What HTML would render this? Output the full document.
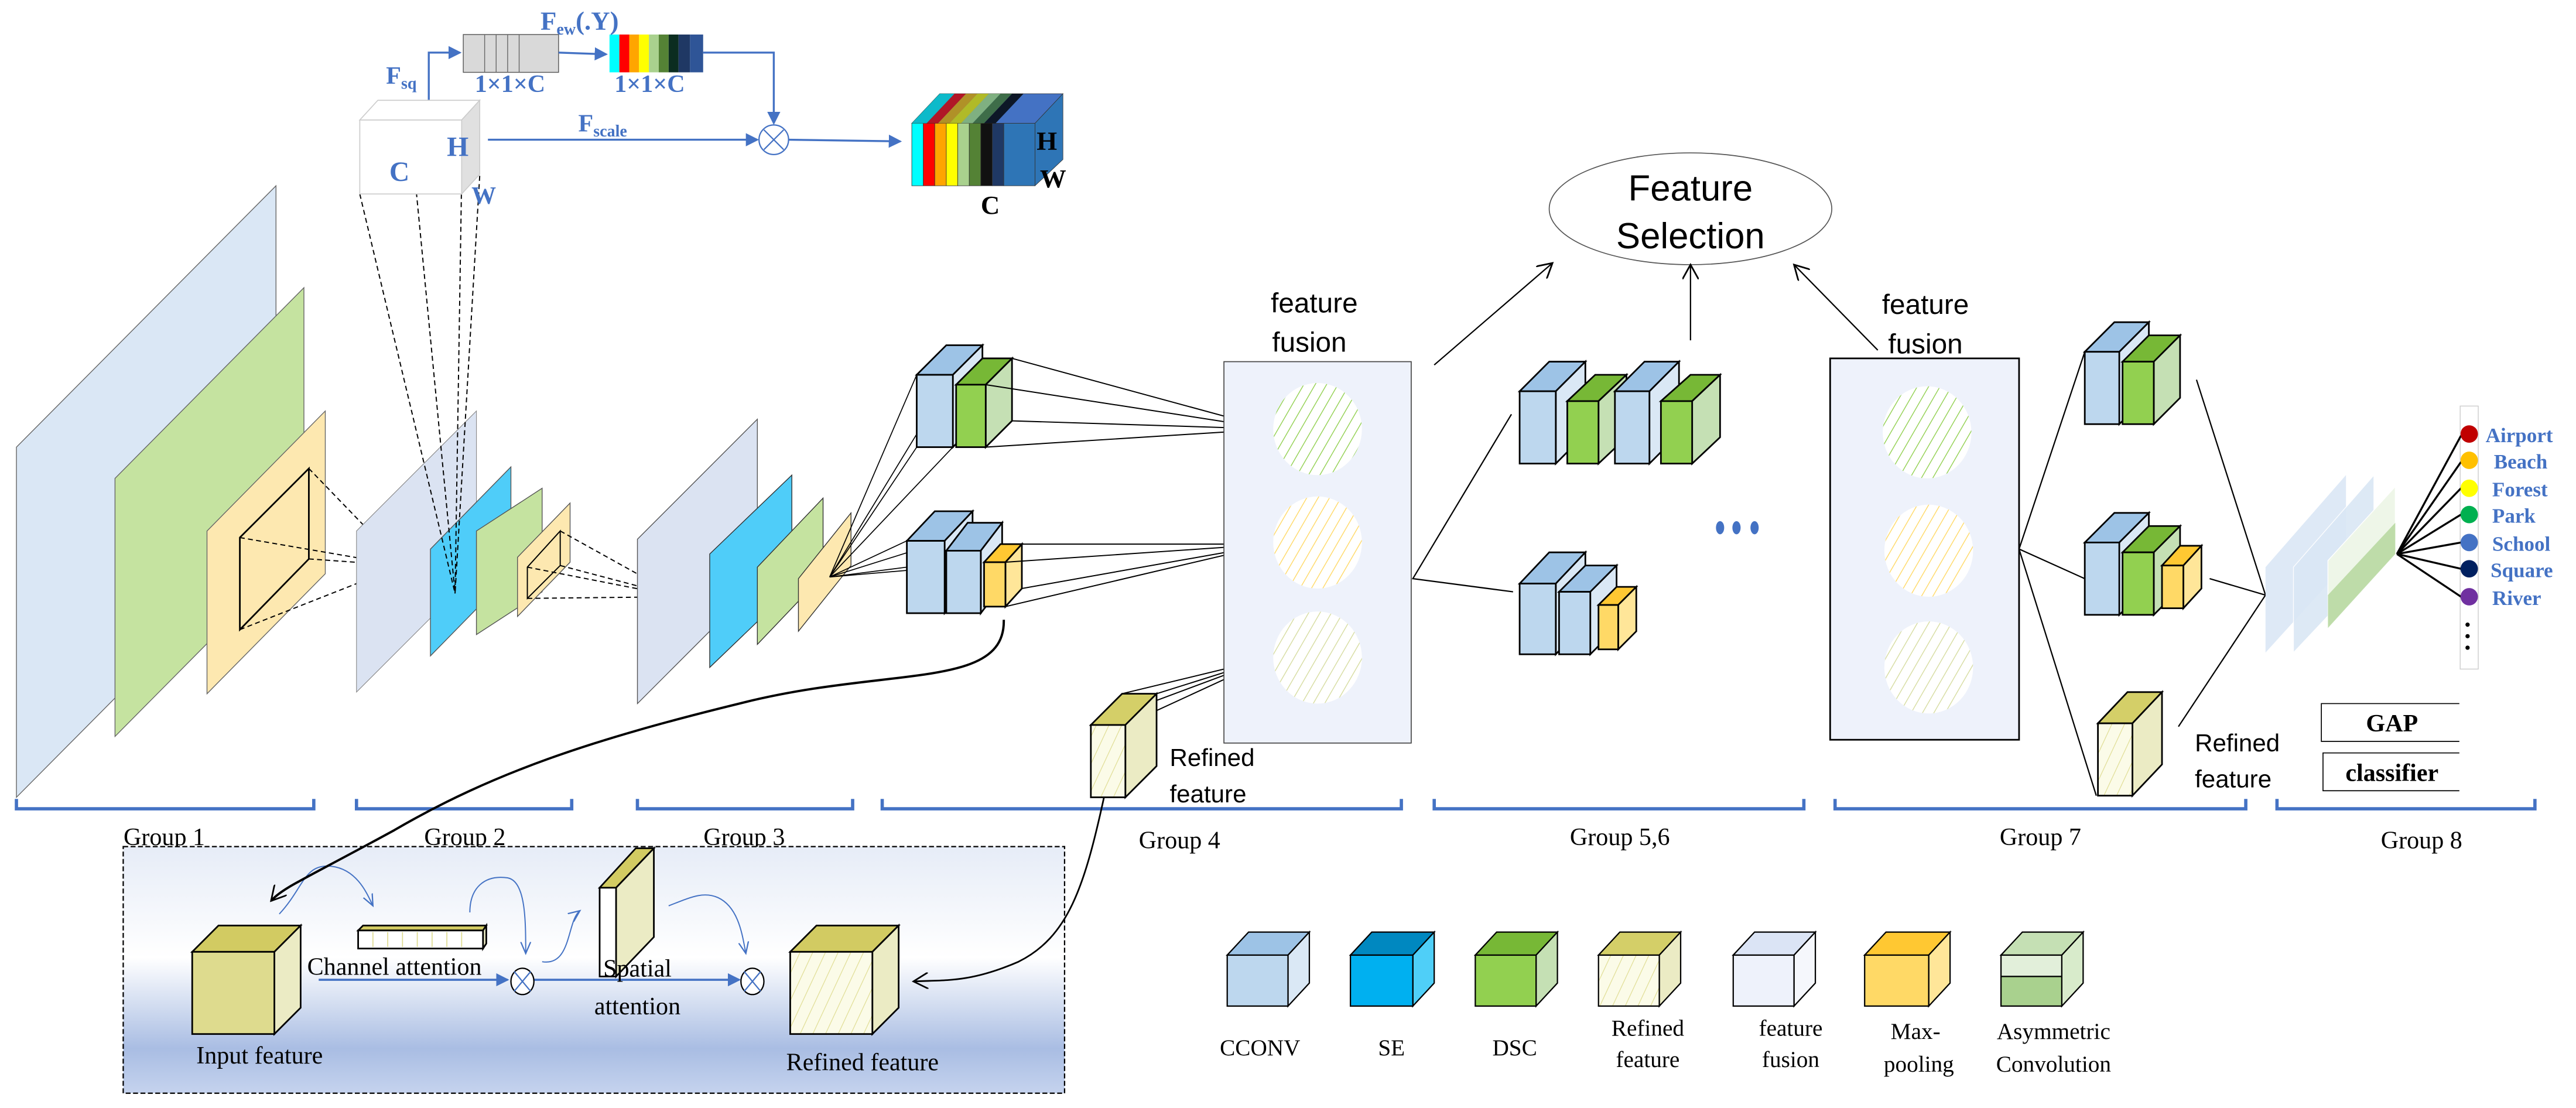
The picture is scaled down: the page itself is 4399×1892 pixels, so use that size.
<!DOCTYPE html>
<html><head><meta charset="utf-8"><style>html,body{margin:0;padding:0;background:#fff}svg{display:block}</style></head>
<body>
<svg xmlns="http://www.w3.org/2000/svg" width="4399" height="1892" viewBox="0 0 1568 674" preserveAspectRatio="none" font-family="'Liberation Serif', serif">
<defs>
<pattern id="hg" patternUnits="userSpaceOnUse" width="6" height="6" patternTransform="rotate(30)"><rect width="6" height="6" fill="#fff"/><line x1="0" y1="0" x2="0" y2="6" stroke="#92d050" stroke-width="1"/></pattern>
<pattern id="hy" patternUnits="userSpaceOnUse" width="6" height="6" patternTransform="rotate(30)"><rect width="6" height="6" fill="#fff"/><line x1="0" y1="0" x2="0" y2="6" stroke="#ffd966" stroke-width="1"/></pattern>
<pattern id="hl" patternUnits="userSpaceOnUse" width="6" height="6" patternTransform="rotate(30)"><rect width="6" height="6" fill="#fff"/><line x1="0" y1="0" x2="0" y2="6" stroke="#d6dca0" stroke-width="1"/></pattern>
<pattern id="hr" patternUnits="userSpaceOnUse" width="7" height="7" patternTransform="rotate(25)"><rect width="7" height="7" fill="#fbfbe8"/><line x1="0" y1="0" x2="0" y2="7" stroke="#dedb8e" stroke-width="0.8"/></pattern>
<linearGradient id="bg" x1="0" y1="0" x2="0" y2="1"><stop offset="0" stop-color="#e6ecf7"/><stop offset="0.45" stop-color="#ffffff"/><stop offset="0.82" stop-color="#a9bde3"/><stop offset="1" stop-color="#c5d3ee"/></linearGradient>
<marker id="ab" markerWidth="8" markerHeight="8" refX="7" refY="4" orient="auto" markerUnits="userSpaceOnUse"><path d="M0,0 L8,4 L0,8 z" fill="#4472c4"/></marker>
<marker id="ak" markerWidth="10" markerHeight="10" refX="9" refY="5" orient="auto" markerUnits="userSpaceOnUse"><path d="M0,0 L9,5 L0,10" fill="none" stroke="#000" stroke-width="1"/></marker>
<marker id="at" markerWidth="8" markerHeight="8" refX="7" refY="4" orient="auto" markerUnits="userSpaceOnUse"><path d="M0,1 L7,4 L0,7" fill="none" stroke="#4472c4" stroke-width="0.8"/></marker>
</defs>

<polygon points="10,272 168,113 168,326 10,485" fill="#dae7f5" stroke="#666" stroke-width="0.5"/>
<polygon points="70,291 185,175 185,332 70,448" fill="#c5e3a0" stroke="#666" stroke-width="0.5"/>
<polygon points="126,323 198,250 198,349 126,422" fill="#fde8b0" stroke="#666" stroke-width="0.5"/>
<polygon points="146,327 188,285 188,340 146,383" fill="none" stroke="#000" stroke-width="1"/>
<g stroke="#000" stroke-width="0.7" stroke-dasharray="3,2" fill="none">
<line x1="188" y1="285" x2="245" y2="344"/><line x1="146" y1="327" x2="245" y2="344"/><line x1="146" y1="383" x2="245" y2="344"/><line x1="188" y1="340" x2="245" y2="344"/>
<line x1="188" y1="285" x2="188" y2="340"/><line x1="188" y1="340" x2="146" y2="383"/>
</g>

<polygon points="217,323 290,250 290,348 217,421" fill="#dbe3f2" stroke="#888" stroke-width="0.4"/>
<polygon points="262,334 311,284 311,349 262,399" fill="#4fcdf9" stroke="#555" stroke-width="0.5"/>
<polygon points="290,323 330,297 330,360 290,386" fill="#c5e3a0" stroke="#555" stroke-width="0.5"/>
<polygon points="315,339 347,306 347,342 315,375" fill="#fde8b0" stroke="#555" stroke-width="0.5"/>
<polygon points="321,345 341,323 341,344 321,364" fill="none" stroke="#000" stroke-width="0.7"/>
<g stroke="#000" stroke-width="0.7" stroke-dasharray="3,2" fill="none">
<line x1="219" y1="118" x2="277" y2="361"/><line x1="252" y1="102" x2="277" y2="361"/><line x1="281" y1="108" x2="277" y2="361"/><line x1="292" y1="107" x2="277" y2="361"/>
<line x1="341" y1="323" x2="413" y2="363"/><line x1="321" y1="345" x2="413" y2="363"/><line x1="321" y1="364" x2="413" y2="363"/><line x1="341" y1="344" x2="413" y2="363"/>
</g>

<polygon points="388,328 461,255 461,355 388,428" fill="#dbe3f2" stroke="#555" stroke-width="0.5"/>
<polygon points="432,337 482,289 482,358 432,406" fill="#4fcdf9" stroke="#333" stroke-width="0.5"/>
<polygon points="461,345 501,303 501,350 461,392" fill="#c5e3a0" stroke="#333" stroke-width="0.5"/>
<polygon points="486,352 518,312 518,344 486,384" fill="#fde8b0" stroke="#333" stroke-width="0.5"/>
<g stroke="#000" stroke-width="0.6">
<line x1="505" y1="351" x2="558" y2="228"/><line x1="505" y1="351" x2="558" y2="272"/><line x1="505" y1="351" x2="580" y2="228"/><line x1="505" y1="351" x2="580" y2="272"/>
<line x1="505" y1="351" x2="552" y2="329"/><line x1="505" y1="351" x2="575" y2="329"/><line x1="505" y1="351" x2="552" y2="345"/><line x1="505" y1="351" x2="575" y2="345"/>
</g>

<rect x="282" y="21" width="58" height="23" fill="#d9d9d9" stroke="#555" stroke-width="0.5"/>
<g stroke="#666" stroke-width="0.5"><line x1="295" y1="21" x2="295" y2="44"/><line x1="302" y1="21" x2="302" y2="44"/><line x1="309" y1="21" x2="309" y2="44"/><line x1="316" y1="21" x2="316" y2="44"/></g>
<g stroke="none">
<rect x="371" y="21" width="6" height="23" fill="#00ffff"/><rect x="377" y="21" width="6" height="23" fill="#ff0000"/><rect x="383" y="21" width="6" height="23" fill="#ffa500"/><rect x="389" y="21" width="6" height="23" fill="#ffff00"/><rect x="395" y="21" width="6" height="23" fill="#a9d18e"/><rect x="401" y="21" width="6" height="23" fill="#548235"/><rect x="407" y="21" width="6" height="23" fill="#0b2d20"/><rect x="413" y="21" width="7" height="23" fill="#1f3864"/><rect x="420" y="21" width="8" height="23" fill="#2f5597"/>
</g>
<g stroke="#4472c4" stroke-width="1.2" fill="none">
<polyline points="261,61 261,32 280,32" marker-end="url(#ab)"/>
<line x1="340" y1="32" x2="369" y2="33" marker-end="url(#ab)"/>
<polyline points="428,32 471,32 471,75" marker-end="url(#ab)"/>
<line x1="297" y1="85" x2="461" y2="85" marker-end="url(#ab)"/>
<line x1="480" y1="85" x2="548" y2="86" marker-end="url(#ab)"/>
</g>
<ellipse cx="471" cy="85" rx="9" ry="9" fill="#fff" stroke="#4472c4" stroke-width="0.8"/>
<path d="M465,79 L477,91 M477,79 L465,91" stroke="#4472c4" stroke-width="0.8"/>
<polygon points="219,73 230,61 292,61 281,73" fill="#fff" stroke="#ccc" stroke-width="0.6"/>
<rect x="219" y="73" width="62" height="45" fill="#fff" stroke="#ccc" stroke-width="0.6"/>
<polygon points="281,73 292,61 292,106 281,118" fill="#e0e0e0" stroke="#ccc" stroke-width="0.6"/>
<g fill="#4472c4" font-weight="bold">
<text x="237" y="110" font-size="17">C</text><text x="272" y="95" font-size="17">H</text><text x="287" y="124" font-size="15">W</text>
<text x="235" y="51" font-size="15">F<tspan font-size="10" dy="3">sq</tspan></text>
<text x="329" y="18" font-size="16">F<tspan font-size="10" dy="3">ew</tspan><tspan dy="-3">(.Y)</tspan></text>
<text x="289" y="56" font-size="15">1×1×C</text><text x="374" y="56" font-size="15">1×1×C</text>
<text x="352" y="80" font-size="15">F<tspan font-size="10" dy="3">scale</tspan></text>
</g>
<g stroke="#333" stroke-width="0.3">
<polygon points="555,75 572,57 647,57 630,75" fill="#4472c4"/>
<polygon points="630,75 647,57 647,97 630,113" fill="#2e75b6"/>
<rect x="555" y="75" width="7" height="38" fill="#00ffff"/><rect x="562" y="75" width="7" height="38" fill="#ff0000"/><rect x="569" y="75" width="7" height="38" fill="#ffa500"/><rect x="576" y="75" width="7" height="38" fill="#ffff00"/><rect x="583" y="75" width="7" height="38" fill="#a9d18e"/><rect x="590" y="75" width="7" height="38" fill="#548235"/><rect x="597" y="75" width="7" height="38" fill="#111"/><rect x="604" y="75" width="7" height="38" fill="#1f3864"/><rect x="611" y="75" width="19" height="38" fill="#2e75b6"/>
</g>
<polygon points="555,75 572,57 581,57 564,75" fill="#00cccc" opacity="0.8"/>
<polygon points="564,75 581,57 588,57 571,75" fill="#cc0000" opacity="0.8"/>
<polygon points="571,75 588,57 595,57 578,75" fill="#cc9900" opacity="0.8"/>
<polygon points="578,75 595,57 602,57 585,75" fill="#cccc00" opacity="0.8"/>
<polygon points="585,75 602,57 609,57 592,75" fill="#8fbf70" opacity="0.8"/>
<polygon points="592,75 609,57 616,57 599,75" fill="#3d6b2a" opacity="0.8"/>
<polygon points="599,75 616,57 623,57 606,75" fill="#000" opacity="0.8"/>
<g font-weight="bold" fill="#000"><text x="631" y="91" font-size="16">H</text><text x="633" y="114" font-size="16">W</text><text x="597" y="130" font-size="16">C</text></g>

<g stroke="#000" stroke-width="1">
<polygon points="558,228 576,210 598,210 580,228" fill="#9dc3e6"/><polygon points="580,228 598,210 598,254 580,272" fill="#dae8f5"/><rect x="558" y="228" width="22" height="44" fill="#bdd7ee"/>
<polygon points="582,234 598,218 616,218 600,234" fill="#77b836"/><polygon points="600,234 616,218 616,256 600,272" fill="#c5e0b4"/><rect x="582" y="234" width="18" height="38" fill="#92d050"/>
<polygon points="552,329 569,311 592,311 575,329" fill="#9dc3e6"/><polygon points="575,329 592,311 592,355 575,373" fill="#dae8f5"/><rect x="552" y="329" width="23" height="44" fill="#bdd7ee"/>
<polygon points="576,335 589,318 610,318 597,335" fill="#9dc3e6"/><polygon points="597,335 610,318 610,356 597,373" fill="#dae8f5"/><rect x="576" y="335" width="21" height="38" fill="#bdd7ee"/>
<polygon points="599,342 609,331 622,331 612,342" fill="#ffc832"/><polygon points="612,342 622,331 622,358 612,369" fill="#ffe699"/><rect x="599" y="342" width="13" height="27" fill="#ffd966"/>
</g>
<g stroke="#000" stroke-width="0.7">
<line x1="616" y1="218" x2="774" y2="261"/><line x1="600" y1="234" x2="774" y2="261"/><line x1="616" y1="256" x2="774" y2="261"/><line x1="600" y1="272" x2="774" y2="261"/>
<line x1="622" y1="331" x2="774" y2="331"/><line x1="612" y1="342" x2="774" y2="331"/><line x1="622" y1="358" x2="774" y2="331"/><line x1="612" y1="369" x2="774" y2="331"/>
<line x1="664" y1="441" x2="774" y2="400"/><line x1="683" y1="422" x2="774" y2="400"/><line x1="704" y1="422" x2="774" y2="400"/><line x1="685" y1="441" x2="774" y2="400"/>
</g>
<g stroke="#000" stroke-width="1">
<polygon points="664,441 683,422 704,422 685,441" fill="#d4cf68"/><polygon points="685,441 704,422 704,466 685,485" fill="#ebebc4"/><rect x="664" y="441" width="21" height="44" fill="url(#hr)"/>
</g>
<g font-family="'Liberation Sans', sans-serif" font-size="15" fill="#000"><text x="712" y="466">Refined</text><text x="712" y="488">feature</text></g>

<rect x="745" y="220" width="114" height="232" fill="#eef2fb" stroke="#444" stroke-width="0.6"/>
<ellipse cx="802" cy="261" rx="27" ry="28" fill="url(#hg)"/>
<ellipse cx="802" cy="330" rx="27" ry="28" fill="url(#hy)"/>
<ellipse cx="802" cy="400" rx="27" ry="28" fill="url(#hl)"/>
<g font-family="'Liberation Sans', sans-serif" font-size="17" fill="#000" text-anchor="middle"><text x="800" y="190">feature</text><text x="797" y="214">fusion</text><text x="1172" y="191">feature</text><text x="1172" y="215">fusion</text></g>

<ellipse cx="1029" cy="127" rx="86" ry="34" fill="#fff" stroke="#555" stroke-width="0.6"/>
<g font-size="22" text-anchor="middle" font-family="'Liberation Sans', sans-serif"><text x="1029" y="122">Feature</text><text x="1029" y="151">Selection</text></g>
<g stroke="#000" stroke-width="0.8" fill="none">
<line x1="873" y1="222" x2="945" y2="160" marker-end="url(#ak)"/>
<line x1="1029" y1="207" x2="1029" y2="161" marker-end="url(#ak)"/>
<line x1="1143" y1="213" x2="1092" y2="161" marker-end="url(#ak)"/>
<polyline points="920,252 860,352 921,360"/>
</g>

<g stroke="#000" stroke-width="1">
<polygon points="925,238 943,220 965,220 947,238" fill="#9dc3e6"/><polygon points="947,238 965,220 965,264 947,282" fill="#dae8f5"/><rect x="925" y="238" width="22" height="44" fill="#bdd7ee"/>
<polygon points="954,244 971,228 990,228 973,244" fill="#77b836"/><polygon points="973,244 990,228 990,266 973,282" fill="#c5e0b4"/><rect x="954" y="244" width="19" height="38" fill="#92d050"/>
<polygon points="983,238 1001,220 1022,220 1004,238" fill="#9dc3e6"/><polygon points="1004,238 1022,220 1022,264 1004,282" fill="#dae8f5"/><rect x="983" y="238" width="21" height="44" fill="#bdd7ee"/>
<polygon points="1011,244 1029,228 1047,228 1030,244" fill="#77b836"/><polygon points="1030,244 1047,228 1047,266 1030,282" fill="#c5e0b4"/><rect x="1011" y="244" width="19" height="38" fill="#92d050"/>
<polygon points="925,355 943,336 965,336 947,355" fill="#9dc3e6"/><polygon points="947,355 965,336 965,379 947,398" fill="#dae8f5"/><rect x="925" y="355" width="22" height="43" fill="#bdd7ee"/>
<polygon points="949,360 965,344 984,344 968,360" fill="#9dc3e6"/><polygon points="968,360 984,344 984,382 968,398" fill="#dae8f5"/><rect x="949" y="360" width="19" height="38" fill="#bdd7ee"/>
<polygon points="973,368 984,357 996,357 985,368" fill="#ffc832"/><polygon points="985,368 996,357 996,384 985,395" fill="#ffe699"/><rect x="973" y="368" width="12" height="27" fill="#ffd966"/>
</g>
<g fill="#4472c4"><ellipse cx="1047" cy="321" rx="2.5" ry="4"/><ellipse cx="1057" cy="321" rx="2.5" ry="4"/><ellipse cx="1068" cy="321" rx="2.5" ry="4"/></g>

<rect x="1114" y="218" width="115" height="232" fill="#eef2fb" stroke="#000" stroke-width="1"/>
<ellipse cx="1173" cy="263" rx="27" ry="28" fill="url(#hg)"/>
<ellipse cx="1174" cy="335" rx="27" ry="28" fill="url(#hy)"/>
<ellipse cx="1174" cy="406" rx="27" ry="28" fill="url(#hl)"/>

<g stroke="#000" stroke-width="0.8" fill="none">
<polyline points="1269,214 1229,334 1269,352"/><line x1="1229" y1="334" x2="1276" y2="484"/>
<line x1="1337" y1="231" x2="1379" y2="362"/><line x1="1345" y1="352" x2="1379" y2="362"/><line x1="1326" y1="442" x2="1379" y2="362"/>
</g>
<g stroke="#000" stroke-width="1">
<polygon points="1269,214 1287,196 1308,196 1290,214" fill="#9dc3e6"/><polygon points="1290,214 1308,196 1308,240 1290,258" fill="#dae8f5"/><rect x="1269" y="214" width="21" height="44" fill="#bdd7ee"/>
<polygon points="1292,220 1308,204 1327,204 1311,220" fill="#77b836"/><polygon points="1311,220 1327,204 1327,242 1311,258" fill="#c5e0b4"/><rect x="1292" y="220" width="19" height="38" fill="#92d050"/>
<polygon points="1269,330 1287,312 1308,312 1290,330" fill="#9dc3e6"/><polygon points="1290,330 1308,312 1308,356 1290,374" fill="#dae8f5"/><rect x="1269" y="330" width="21" height="44" fill="#bdd7ee"/>
<polygon points="1292,336 1308,320 1327,320 1311,336" fill="#77b836"/><polygon points="1311,336 1327,320 1327,358 1311,374" fill="#c5e0b4"/><rect x="1292" y="336" width="19" height="38" fill="#92d050"/>
<polygon points="1316,344 1327,332 1340,332 1329,344" fill="#ffc832"/><polygon points="1329,344 1340,332 1340,358 1329,370" fill="#ffe699"/><rect x="1316" y="344" width="13" height="26" fill="#ffd966"/>
<polygon points="1277,440 1295,421 1316,421 1298,440" fill="#d4cf68"/><polygon points="1298,440 1316,421 1316,465 1298,484" fill="#ebebc4"/><rect x="1277" y="440" width="21" height="44" fill="url(#hr)"/>
</g>
<g font-family="'Liberation Sans', sans-serif" font-size="15" fill="#000"><text x="1336" y="457">Refined</text><text x="1336" y="479">feature</text></g>

<polygon points="1379,345 1428,289 1428,343 1379,397" fill="#dae7f5" opacity="0.9"/>
<polygon points="1396,345 1445,289 1445,345 1396,397" fill="#dae7f5" opacity="0.9" stroke="#fff" stroke-width="0.5"/>
<polygon points="1417,341 1458,296 1458,337 1417,382" fill="#eef6e8" stroke="#fff" stroke-width="0.5"/>
<polygon points="1417,362 1458,318 1458,337 1417,382" fill="#a9d18e" opacity="0.7"/>
<rect x="1497.5" y="247" width="11" height="160" fill="#fff" stroke="#ccc" stroke-width="0.5"/>
<g stroke="#000" stroke-width="1.2">
<line x1="1459" y1="337" x2="1498" y2="265"/><line x1="1459" y1="337" x2="1498" y2="281"/><line x1="1459" y1="337" x2="1498" y2="297"/><line x1="1459" y1="337" x2="1498" y2="313"/><line x1="1459" y1="337" x2="1498" y2="330"/><line x1="1459" y1="337" x2="1498" y2="346"/><line x1="1459" y1="337" x2="1498" y2="363"/>
</g>
<circle cx="1503" cy="264" r="5.3" fill="#c00000"/><circle cx="1503" cy="280" r="5.3" fill="#ffc000"/><circle cx="1503" cy="297" r="5.3" fill="#ffff00"/><circle cx="1503" cy="313" r="5.3" fill="#00b050"/><circle cx="1503" cy="330" r="5.3" fill="#4472c4"/><circle cx="1503" cy="346" r="5.3" fill="#002060"/><circle cx="1503" cy="363" r="5.3" fill="#7030a0"/>
<circle cx="1502" cy="380" r="1.3" fill="#000"/><circle cx="1502" cy="387" r="1.3" fill="#000"/><circle cx="1502" cy="394" r="1.3" fill="#000"/>
<g fill="#4472c4" font-weight="bold" font-size="12.5"><text x="1513" y="269">Airport</text><text x="1518" y="285">Beach</text><text x="1517" y="302">Forest</text><text x="1517" y="318">Park</text><text x="1517" y="335">School</text><text x="1516" y="351">Square</text><text x="1517" y="368">River</text></g>
<polyline points="1497,428 1413,428 1413,451 1497,451" fill="#fff" stroke="#000" stroke-width="0.6"/>
<polyline points="1497,458 1414,458 1414,481 1497,481" fill="#fff" stroke="#000" stroke-width="0.6"/>
<g font-weight="bold" font-size="15" text-anchor="middle"><text x="1456" y="445">GAP</text><text x="1456" y="475">classifier</text></g>

<g stroke="#4472c4" stroke-width="2" fill="none">
<polyline points="10,486 10,492 191,492 191,486"/><polyline points="217,486 217,492 348,492 348,486"/><polyline points="388,486 388,492 519,492 519,486"/><polyline points="537,486 537,492 853,492 853,486"/><polyline points="873,486 873,492 1098,492 1098,486"/><polyline points="1117,486 1117,492 1367,492 1367,486"/><polyline points="1386,486 1386,492 1543,492 1543,486"/>
</g>
<g font-size="15" text-anchor="middle" fill="#000"><text x="100" y="514">Group 1</text><text x="283" y="514">Group 2</text><text x="453" y="514">Group 3</text><text x="718" y="516">Group 4</text><text x="986" y="514">Group 5,6</text><text x="1242" y="514">Group 7</text><text x="1474" y="516">Group 8</text></g>

<rect x="75" y="515" width="573" height="150" fill="url(#bg)" stroke="#000" stroke-width="0.8" stroke-dasharray="3,1.5"/>
<g stroke="#000" stroke-width="1">
<polygon points="117,579 133,563 183,563 167,579" fill="#d2cb62"/><polygon points="167,579 183,563 183,613 167,629" fill="#ebebc4"/><rect x="117" y="579" width="50" height="50" fill="#dedb8e"/>
<polygon points="218,566 221,563 296,563 294,566" fill="#d2cb62"/><polygon points="294,566 296,563 296,574 294,577" fill="#ebebc4"/><rect x="218" y="566" width="76" height="11" fill="#fff"/>
<polygon points="365,540 387,516 398,516 375,540" fill="#d2cb62"/><polygon points="375,540 398,516 398,570 375,594" fill="#ebebc4"/><rect x="365" y="540" width="10" height="54" fill="#fff"/>
<polygon points="481,579 497,563 547,563 531,579" fill="#d2cb62"/><polygon points="531,579 547,563 547,613 531,629" fill="#ebebc4"/><rect x="481" y="579" width="50" height="50" fill="url(#hr)"/>
</g>
<g stroke="#dedb8e" stroke-width="0.6"><line x1="227" y1="567" x2="227" y2="576"/><line x1="236" y1="567" x2="236" y2="576"/><line x1="245" y1="567" x2="245" y2="576"/><line x1="254" y1="567" x2="254" y2="576"/><line x1="263" y1="567" x2="263" y2="576"/><line x1="272" y1="567" x2="272" y2="576"/><line x1="281" y1="567" x2="281" y2="576"/></g>
<g stroke="#4472c4" stroke-width="1.3" fill="none">
<line x1="194" y1="596" x2="309" y2="596" marker-end="url(#ab)"/>
<line x1="325" y1="596" x2="450" y2="596" marker-end="url(#ab)"/>
</g>
<g stroke="#4472c4" stroke-width="0.7" fill="none">
<path d="M170,556 C185,540 185,525 202,527 C218,529 224,545 227,551" marker-end="url(#at)"/>
<path d="M286,555 C286,540 295,532 309,534 C320,536 320,560 320,580" marker-end="url(#at)"/>
<path d="M330,585 C348,588 345,560 353,554" marker-end="url(#at)"/>
<path d="M407,551 C420,546 428,542 437,546 C450,552 452,570 454,580" marker-end="url(#at)"/>
</g>
<ellipse cx="318" cy="597" rx="7" ry="8" fill="#fff" stroke="#000" stroke-width="0.8"/><path d="M313,591 L323,603 M323,591 L313,603" stroke="#4472c4" stroke-width="0.8"/>
<ellipse cx="458" cy="597" rx="7" ry="8" fill="#fff" stroke="#000" stroke-width="0.8"/><path d="M453,591 L463,603 M463,591 L453,603" stroke="#4472c4" stroke-width="0.8"/>
<g font-size="15" fill="#000"><text x="187" y="593">Channel attention</text><text x="388" y="594" text-anchor="middle">Spatial</text><text x="388" y="617" text-anchor="middle">attention</text><text x="158" y="647" text-anchor="middle">Input feature</text><text x="525" y="651" text-anchor="middle">Refined feature</text></g>

<!-- black curves on top -->
<path d="M611,377 C612,420 540,405 450,428 C360,450 300,470 240,505 C185,535 172,540 165,548" fill="none" stroke="#000" stroke-width="1.4" marker-end="url(#ak)"/>
<path d="M672,485 C660,540 650,570 620,585 C590,598 575,596 556,597" fill="none" stroke="#000" stroke-width="1" marker-end="url(#ak)"/>

<g stroke="#000" stroke-width="0.8">
<polygon points="747,581 760,567 797,567 784,581" fill="#9dc3e6"/><polygon points="784,581 797,567 797,598 784,612" fill="#dae8f5"/><rect x="747" y="581" width="37" height="31" fill="#bdd7ee"/>
<polygon points="822,581 835,567 873,567 860,581" fill="#0088c0"/><polygon points="860,581 873,567 873,598 860,612" fill="#4fcff8"/><rect x="822" y="581" width="38" height="31" fill="#00b0f0"/>
<polygon points="898,581 911,567 948,567 935,581" fill="#77b836"/><polygon points="935,581 948,567 948,598 935,612" fill="#c5e0b4"/><rect x="898" y="581" width="37" height="31" fill="#92d050"/>
<polygon points="973,581 986,567 1023,567 1010,581" fill="#d4cf68"/><polygon points="1010,581 1023,567 1023,598 1010,612" fill="#ebebc4"/><rect x="973" y="581" width="37" height="31" fill="url(#hr)"/>
<polygon points="1055,581 1068,567 1105,567 1092,581" fill="#dbe4f5"/><polygon points="1092,581 1105,567 1105,598 1092,612" fill="#f5f7fc"/><rect x="1055" y="581" width="37" height="31" fill="#eef2fb"/>
<polygon points="1135,581 1148,567 1187,567 1174,581" fill="#ffc832"/><polygon points="1174,581 1187,567 1187,598 1174,612" fill="#ffe699"/><rect x="1135" y="581" width="39" height="31" fill="#ffd966"/>
<polygon points="1218,581 1231,567 1268,567 1255,581" fill="#c5e0b4"/><polygon points="1255,581 1268,567 1268,598 1255,612" fill="#d8ebcb"/><rect x="1218" y="581" width="37" height="13" fill="#e2efda"/><rect x="1218" y="594" width="37" height="18" fill="#a9d18e"/>
</g>
<g font-size="14" text-anchor="middle" fill="#000"><text x="767" y="642">CCONV</text><text x="847" y="642">SE</text><text x="922" y="642">DSC</text><text x="1003" y="630">Refined</text><text x="1003" y="649">feature</text><text x="1090" y="630">feature</text><text x="1090" y="649">fusion</text><text x="1166" y="632">Max-</text><text x="1168" y="652">pooling</text><text x="1250" y="632">Asymmetric</text><text x="1250" y="652">Convolution</text></g>
</svg>
</body></html>
